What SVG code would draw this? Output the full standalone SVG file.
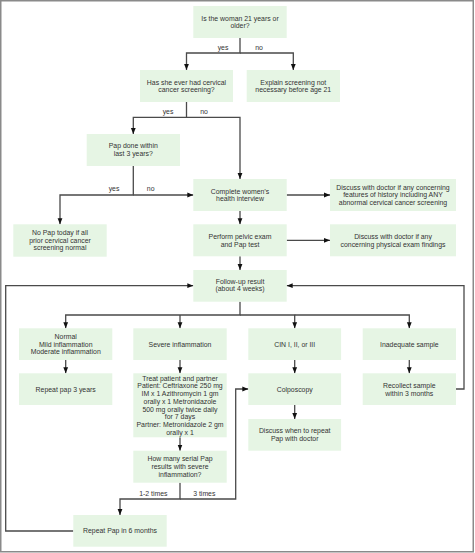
<svg xmlns="http://www.w3.org/2000/svg" width="475" height="553" viewBox="0 0 475 553">
<style>
.box{fill:#e6f5e4;stroke:none}
.t{font-family:"Liberation Sans",Arial,sans-serif;font-size:6.9px;fill:#333;text-anchor:middle}
.c{fill:none;stroke:#4a4a4a;stroke-width:1.3}
</style>
<defs>
<marker id="ah" markerUnits="userSpaceOnUse" markerWidth="7" markerHeight="6" refX="6" refY="3" orient="auto">
<path d="M0,0.6 L6,3 L0,5.4 Z" fill="#111"/>
</marker>
</defs>
<rect x="0.75" y="0.75" width="472.5" height="551" fill="#fff" stroke="#8a8a8a" stroke-width="1.5"/>

<g id="connectors">
<path class="c" d="M240,38 V53 H186.5 V70" marker-end="url(#ah)"/>
<path class="c" d="M240,53 H293.3 V70" marker-end="url(#ah)"/>
<path class="c" d="M186.5,102 V117.3 H133.3 V134" marker-end="url(#ah)"/>
<path class="c" d="M186.5,117.3 H240 V179" marker-end="url(#ah)"/>
<path class="c" d="M133.3,166 V195 H60 V224.3" marker-end="url(#ah)"/>
<path class="c" d="M133.3,195 H193.3" marker-end="url(#ah)"/>
<path class="c" d="M286.7,195 H330" marker-end="url(#ah)"/>
<path class="c" d="M240,211 V224.3" marker-end="url(#ah)"/>
<path class="c" d="M286.7,240.3 H330" marker-end="url(#ah)"/>
<path class="c" d="M240,256.3 V270" marker-end="url(#ah)"/>
<path class="c" d="M240,301.7 V315 H65.7 V328.3" marker-end="url(#ah)"/>
<path class="c" d="M180,315 V328.3" marker-end="url(#ah)"/>
<path class="c" d="M240,315 H294.7 V328.3" marker-end="url(#ah)"/>
<path class="c" d="M294.7,315 H409.3 V328.3" marker-end="url(#ah)"/>
<path class="c" d="M65.7,360 V373.3" marker-end="url(#ah)"/>
<path class="c" d="M180,360 V373.3" marker-end="url(#ah)"/>
<path class="c" d="M294.7,360 V373.3" marker-end="url(#ah)"/>
<path class="c" d="M409.3,360 V373.3" marker-end="url(#ah)"/>
<path class="c" d="M294.7,405 V419" marker-end="url(#ah)"/>
<path class="c" d="M180,437.3 V450.7" marker-end="url(#ah)"/>
<path class="c" d="M180,482.7 V499 H120 V515" marker-end="url(#ah)"/>
<path class="c" d="M180,499 H235.7 V389 H248.3" marker-end="url(#ah)"/>
<path class="c" d="M73.3,531 H5.7 V285.7 H193.3" marker-end="url(#ah)"/>
<path class="c" d="M456,389 H464 V285.7 H286.7" marker-end="url(#ah)"/>
<text class="t" x="223" y="50.4">yes</text>
<text class="t" x="259" y="50.4">no</text>
<text class="t" x="168" y="114.2">yes</text>
<text class="t" x="204" y="114.2">no</text>
<text class="t" x="114" y="191.4">yes</text>
<text class="t" x="150.7" y="191.4">no</text>
<text class="t" x="153.3" y="495.7">1-2 times</text>
<text class="t" x="204.3" y="495.5">3 times</text>
</g>

<g id="q-age">
<rect class="box" x="193.3" y="6" width="93.4" height="32"/>
<text class="t" x="240" y="20.6">Is the woman 21 years or</text>
<text class="t" x="240" y="28.3">older?</text>
</g>
<g id="q-ever">
<rect class="box" x="140" y="70" width="93" height="32"/>
<text class="t" x="186.5" y="84.5">Has she ever had cervical</text>
<text class="t" x="186.5" y="92.2">cancer screening?</text>
</g>
<g id="explain">
<rect class="box" x="246.7" y="70" width="93.3" height="32"/>
<text class="t" x="293.3" y="84.5">Explain screening not</text>
<text class="t" x="293.3" y="92.2">necessary before age 21</text>
</g>
<g id="q-pap3">
<rect class="box" x="86.7" y="134" width="93.3" height="32"/>
<text class="t" x="133.3" y="148.2">Pap done within</text>
<text class="t" x="133.3" y="155.9">last 3 years?</text>
</g>
<g id="interview">
<rect class="box" x="193.3" y="179" width="93.4" height="32"/>
<text class="t" x="240" y="193.6">Complete women’s</text>
<text class="t" x="240" y="201.3">health interview</text>
</g>
<g id="discuss-history">
<rect class="box" x="330" y="179" width="126" height="32"/>
<text class="t" x="393" y="189.7">Discuss with doctor if any concerning</text>
<text class="t" x="393" y="197.4">features of history including ANY</text>
<text class="t" x="393" y="205.1">abnormal cervical cancer screening</text>
</g>
<g id="no-pap">
<rect class="box" x="13.3" y="224.3" width="93.4" height="32.4"/>
<text class="t" x="60" y="234.8">No Pap today if all</text>
<text class="t" x="60" y="242.5">prior cervical cancer</text>
<text class="t" x="60" y="250.2">screening normal</text>
</g>
<g id="pelvic">
<rect class="box" x="193.3" y="224.3" width="93.4" height="32"/>
<text class="t" x="240" y="238.9">Perform pelvic exam</text>
<text class="t" x="240" y="246.6">and Pap test</text>
</g>
<g id="discuss-exam">
<rect class="box" x="330" y="224.3" width="126" height="32"/>
<text class="t" x="393" y="238.9">Discuss with doctor if any</text>
<text class="t" x="393" y="246.6">concerning physical exam findings</text>
</g>
<g id="follow-up">
<rect class="box" x="193.3" y="270" width="93.4" height="31.7"/>
<text class="t" x="240" y="283.5">Follow-up result</text>
<text class="t" x="240" y="291.2">(about 4 weeks)</text>
</g>
<g id="normal">
<rect class="box" x="19" y="328.3" width="93.3" height="31.7"/>
<text class="t" x="65.7" y="338.9">Normal</text>
<text class="t" x="65.7" y="346.6">Mild inflammation</text>
<text class="t" x="65.7" y="354.3">Moderate inflammation</text>
</g>
<g id="severe">
<rect class="box" x="133.3" y="328.3" width="93.4" height="31.7"/>
<text class="t" x="180" y="346.6">Severe inflammation</text>
</g>
<g id="cin">
<rect class="box" x="248.3" y="328.3" width="92.8" height="31.7"/>
<text class="t" x="294.7" y="346.6">CIN I, II, or III</text>
</g>
<g id="inadequate">
<rect class="box" x="362.7" y="328.3" width="93.3" height="31.7"/>
<text class="t" x="409.3" y="346.6">Inadequate sample</text>
</g>
<g id="repeat-3y">
<rect class="box" x="19" y="373.3" width="93.3" height="31.7"/>
<text class="t" x="65.7" y="391.6">Repeat pap 3 years</text>
</g>
<g id="treat">
<rect class="box" x="133.3" y="373.3" width="93.4" height="64"/>
<text class="t" x="180" y="380.7">Treat patient and partner</text>
<text class="t" x="180" y="388.4">Patient: Ceftriaxone 250 mg</text>
<text class="t" x="180" y="396.1">IM x 1 Azithromycin 1 gm</text>
<text class="t" x="180" y="403.8">orally x 1 Metronidazole</text>
<text class="t" x="180" y="411.5">500 mg orally twice daily</text>
<text class="t" x="180" y="419.2">for 7 days</text>
<text class="t" x="180" y="426.9">Partner: Metronidazole 2 gm</text>
<text class="t" x="180" y="434.6">orally x 1</text>
</g>
<g id="colposcopy">
<rect class="box" x="248.3" y="373.3" width="92.8" height="31.7"/>
<text class="t" x="294.7" y="391.6">Colposcopy</text>
</g>
<g id="recollect">
<rect class="box" x="362.7" y="373.3" width="93.3" height="31.7"/>
<text class="t" x="409.3" y="387.8">Recollect sample</text>
<text class="t" x="409.3" y="395.5">within 3 months</text>
</g>
<g id="discuss-repeat">
<rect class="box" x="248.3" y="419" width="92.8" height="31.7"/>
<text class="t" x="294.7" y="433.3">Discuss when to repeat</text>
<text class="t" x="294.7" y="441">Pap with doctor</text>
</g>
<g id="how-many">
<rect class="box" x="133.3" y="450.7" width="93.4" height="32"/>
<text class="t" x="180" y="461.4">How many serial Pap</text>
<text class="t" x="180" y="469.1">results with severe</text>
<text class="t" x="180" y="476.8">inflammation?</text>
</g>
<g id="repeat-6m">
<rect class="box" x="73.3" y="515" width="93.4" height="31.7"/>
<text class="t" x="120" y="533.2">Repeat Pap in 6 months</text>
</g>
</svg>
